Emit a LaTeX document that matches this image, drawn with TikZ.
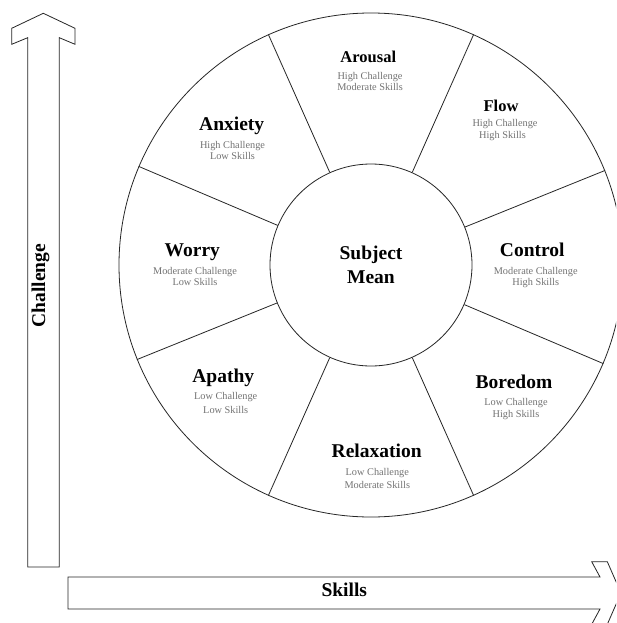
\documentclass[tikz,border=0pt]{standalone}
\usepackage{fontspec}
\setmainfont{Liberation Serif}
\begin{document}
\begin{tikzpicture}[x=1pt,y=-1pt,
  ttl/.style={font=\fontsize{19.5}{23}\selectfont\bfseries, text height=0.66em, text depth=0pt, inner sep=0pt},
  sttl/.style={font=\fontsize{16.5}{20}\selectfont\bfseries, text height=0.66em, text depth=0pt, inner sep=0pt},
  sub/.style={font=\fontsize{10.3}{12}\selectfont, text=black!55, text height=0.6em, text depth=0pt, inner sep=0pt},
  ring/.style={draw=black!85, line width=0.8pt, circle, inner sep=0pt},
  divider/.style={draw=black!85, line width=0.8pt},
  arrowshape/.style={draw=black!85, line width=0.8pt, fill=white, line join=miter}]
\useasboundingbox (0,0) rectangle (616,623);
\clip (0,0) rectangle (616,623);
\fill[white] (0,0) rectangle (616,623);

% circles
\node[ring, minimum size=504pt] (outer) at (371,265) {};
\node[ring, minimum size=202pt, align=center,
      font=\fontsize{19.5}{24.6}\selectfont\bfseries] (inner) at (371,265) {Subject\\Mean};

% dividers
\foreach \a in {22.5,66,114,157.5,202.5,246,294,337.5}
  \draw[divider] (inner.\a) -- (outer.\a);

% labels
\node[sttl] (arousal) at (368.3,59.3) {Arousal};
\node[sub] (arousal1) at (370,76.7) {High Challenge};
\node[sub] (arousal2) at (370,87.7) {Moderate Skills};

\node[sttl] (flow) at (501,108.3) {Flow};
\node[sub] (flow1) at (505,124) {High Challenge};
\node[sub] (flow2) at (502.5,135) {High Skills};

\node[ttl] (anxiety) at (231.7,126.7) {Anxiety};
\node[sub] (anxiety1) at (232.5,145.3) {High Challenge};
\node[sub] (anxiety2) at (232.5,156.7) {Low Skills};

\node[ttl] (worry) at (192.3,252.7) {Worry};
\node[sub] (worry1) at (195,271) {Moderate Challenge};
\node[sub] (worry2) at (195,282) {Low Skills};

\node[ttl] (control) at (532.3,252.7) {Control};
\node[sub] (control1) at (535.7,271) {Moderate Challenge};
\node[sub] (control2) at (535.7,282) {High Skills};

\node[ttl] (apathy) at (223.3,379) {Apathy};
\node[sub] (apathy1) at (225.7,396.7) {Low Challenge};
\node[sub] (apathy2) at (225.7,410) {Low Skills};

\node[ttl] (boredom) at (514,385) {Boredom};
\node[sub] (boredom1) at (516,402.7) {Low Challenge};
\node[sub] (boredom2) at (516,414.3) {High Skills};

\node[ttl] (relax) at (376.7,454) {Relaxation};
\node[sub] (relax1) at (377.3,472.3) {Low Challenge};
\node[sub] (relax2) at (377.3,485) {Moderate Skills};

% vertical arrow (Challenge)
\draw[arrowshape] (27.7,567) -- (27.7,37.7) -- (11.7,44.3) -- (11.7,28.3) -- (43.3,13.3)
  -- (75,28.3) -- (75,44.3) -- (59.3,37.7) -- (59.3,567) -- cycle;
\node[ttl, rotate=90] (challenge) at (41.7,285.5) {Challenge};

% horizontal arrow (Skills)
\draw[arrowshape] (68,577) -- (600,577) -- (591.7,561.7) -- (607.3,561.7) -- (621,593)
  -- (607.3,624.3) -- (591.7,624.3) -- (600,609) -- (68,609) -- cycle;
\node[ttl] (skills) at (344.3,592.7) {Skills};
\end{tikzpicture}
\end{document}
